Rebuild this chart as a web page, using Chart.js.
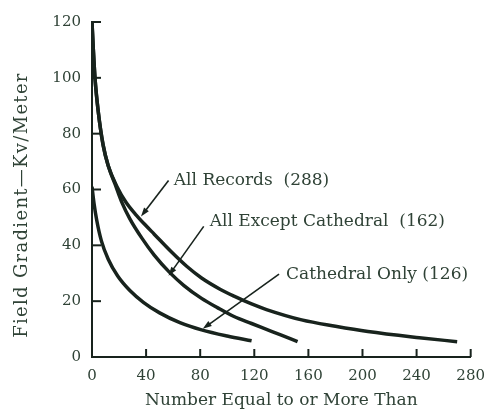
<!DOCTYPE html>
<html lang="en">
<head>
  <meta charset="UTF-8">
  <title>Field Gradient</title>
  <style>
    body {
      margin: 0;
      padding: 0;
      background-color: #fff;
    }
    .container {
      width: 495px;
      height: 411px;
    }
  </style>
</head>
<body>
  <div class="container">
    <canvas id="chart" width="495" height="411"></canvas>
  </div>

  <script src="https://cdn.jsdelivr.net/npm/chart.js"></script>
  <script>
    // Curve readings (number equal to or more than, field gradient kV/m)
    const allRecordsX = [0, 1, 2.2, 4.6, 8.2, 12, 18.5, 25, 32, 40, 46, 59, 70, 81, 95, 105, 118, 129, 155, 180, 204, 242, 270];
    const allRecordsY = [120, 110, 100, 88, 76, 68.5, 61, 55.5, 51.2, 47, 44, 37.5, 32.5, 28.3, 24.2, 21.8, 19, 17, 13.3, 11, 9.1, 6.9, 5.5];

    const exceptCathX = [0, 1, 2.2, 4.6, 8.2, 12, 17, 22, 28, 37, 46, 57, 68, 81, 93, 105, 118, 129, 140, 152];
    const exceptCathY = [120, 110, 100, 88, 76, 68.5, 62, 55.5, 49.5, 42.5, 36.5, 30.5, 25.6, 21, 17.6, 14.5, 12, 9.9, 7.8, 5.5];

    const cathOnlyX = [0, 1.5, 3.5, 7, 12, 19, 28, 38, 50, 65, 81, 100, 118];
    const cathOnlyY = [61, 55, 49, 41.5, 35, 29, 23.8, 19.6, 15.8, 12.3, 9.7, 7.5, 5.8];

    const xTicks = [0, 40, 80, 120, 160, 200, 240, 280];
    const yTicks = [0, 20, 40, 60, 80, 100, 120];

    const yTitle = 'Field Gradient\u2014Kv/Meter';
    const xTitle = 'Number Equal to or More Than';

    // Labels with arrow (text anchor, arrow start, arrow tip) in data units
    const labelTexts = ['All Records  (288)', 'All Except Cathedral  (162)', 'Cathedral Only (126)'];
    const labelAnchors = [[60.5, 63.2], [87, 48.6], [143.5, 29.7]];
    const arrowTails = [[56.6, 63.2], [82.6, 46.8], [138.3, 29.7]];
    const arrowTips = [[36.2, 50.3], [56.6, 29.1], [81.9, 10.1]];

    const ink = '#18231d';
    const textInk = '#2f4236';
    const serif = "'DejaVu Serif', 'Liberation Serif', serif";

    function toPoints(xs, ys) {
      return xs.map((x, i) => ({ x: x, y: ys[i] }));
    }

    function curve(xs, ys) {
      return {
        data: toPoints(xs, ys),
        showLine: true,
        borderColor: ink,
        borderWidth: 3.5,
        pointRadius: 0,
        cubicInterpolationMode: 'monotone',
        fill: false
      };
    }

    // Inward tick marks, y title, and the curve labels with arrows
    const decorations = {
      id: 'decorations',
      afterDatasetsDraw(chart) {
        const ctx = chart.ctx;
        const xs = chart.scales.x;
        const ys = chart.scales.y;
        const area = chart.chartArea;
        ctx.save();
        ctx.strokeStyle = ink;
        ctx.lineWidth = 2;
        xTicks.forEach(v => {
          if (v === 0) return;
          const px = xs.getPixelForValue(v);
          ctx.beginPath();
          ctx.moveTo(px, area.bottom);
          ctx.lineTo(px, area.bottom - 8);
          ctx.stroke();
        });
        yTicks.forEach(v => {
          if (v === 0) return;
          const py = ys.getPixelForValue(v);
          ctx.beginPath();
          ctx.moveTo(area.left, py);
          ctx.lineTo(area.left + 9, py);
          ctx.stroke();
        });

        // y title, a little wider set than the default
        ctx.save();
        ctx.translate(22, 205);
        ctx.rotate(-Math.PI / 2);
        ctx.fillStyle = textInk;
        ctx.font = '18px ' + serif;
        ctx.letterSpacing = '1.3px';
        ctx.textAlign = 'center';
        ctx.textBaseline = 'middle';
        ctx.fillText(yTitle, 0, 0);
        ctx.restore();

        ctx.font = '17px ' + serif;
        ctx.textAlign = 'left';
        ctx.textBaseline = 'middle';
        labelTexts.forEach((t, i) => {
          ctx.fillStyle = textInk;
          ctx.fillText(t, xs.getPixelForValue(labelAnchors[i][0]), ys.getPixelForValue(labelAnchors[i][1]));

          const x0 = xs.getPixelForValue(arrowTails[i][0]);
          const y0 = ys.getPixelForValue(arrowTails[i][1]);
          const x1 = xs.getPixelForValue(arrowTips[i][0]);
          const y1 = ys.getPixelForValue(arrowTips[i][1]);
          const ang = Math.atan2(y1 - y0, x1 - x0);
          ctx.strokeStyle = ink;
          ctx.fillStyle = ink;
          ctx.lineWidth = 1.6;
          ctx.beginPath();
          ctx.moveTo(x0, y0);
          ctx.lineTo(x1 - 6 * Math.cos(ang), y1 - 6 * Math.sin(ang));
          ctx.stroke();
          ctx.beginPath();
          ctx.moveTo(x1, y1);
          ctx.lineTo(x1 - 9 * Math.cos(ang) + 3 * Math.sin(ang), y1 - 9 * Math.sin(ang) - 3 * Math.cos(ang));
          ctx.lineTo(x1 - 9 * Math.cos(ang) - 3 * Math.sin(ang), y1 - 9 * Math.sin(ang) + 3 * Math.cos(ang));
          ctx.closePath();
          ctx.fill();
        });
        ctx.restore();
      }
    };

    const chart = new Chart(document.getElementById('chart').getContext('2d'), {
      type: 'scatter',
      data: {
        datasets: [
          curve(allRecordsX, allRecordsY),
          curve(exceptCathX, exceptCathY),
          curve(cathOnlyX, cathOnlyY)
        ]
      },
      options: {
        responsive: false,
        animation: false,
        layout: { padding: { top: 22, right: 16, left: 0, bottom: 0 } },
        plugins: {
          legend: { display: false },
          tooltip: { enabled: false }
        },
        scales: {
          x: {
            type: 'linear',
            min: 0,
            max: 280,
            afterFit(scale) { scale.height = 54; },
            afterBuildTicks(scale) { scale.ticks = xTicks.map(v => ({ value: v })); },
            border: { display: true, color: ink, width: 2 },
            grid: { display: false, drawTicks: false },
            ticks: {
              color: textInk,
              font: { family: serif, size: 15 },
              padding: 10,
              maxRotation: 0
            },
            title: {
              display: true,
              text: xTitle,
              color: textInk,
              font: { family: serif, size: 17 },
              padding: { top: 4, bottom: 0 }
            }
          },
          y: {
            type: 'linear',
            min: 0,
            max: 120,
            afterFit(scale) { scale.width = 92; },
            afterBuildTicks(scale) { scale.ticks = yTicks.map(v => ({ value: v })); },
            border: { display: true, color: ink, width: 2 },
            grid: { display: false, drawTicks: false },
            ticks: {
              color: textInk,
              font: { family: serif, size: 15 },
              padding: 11
            }
          }
        }
      },
      plugins: [decorations]
    });
  </script>
</body>
</html>
